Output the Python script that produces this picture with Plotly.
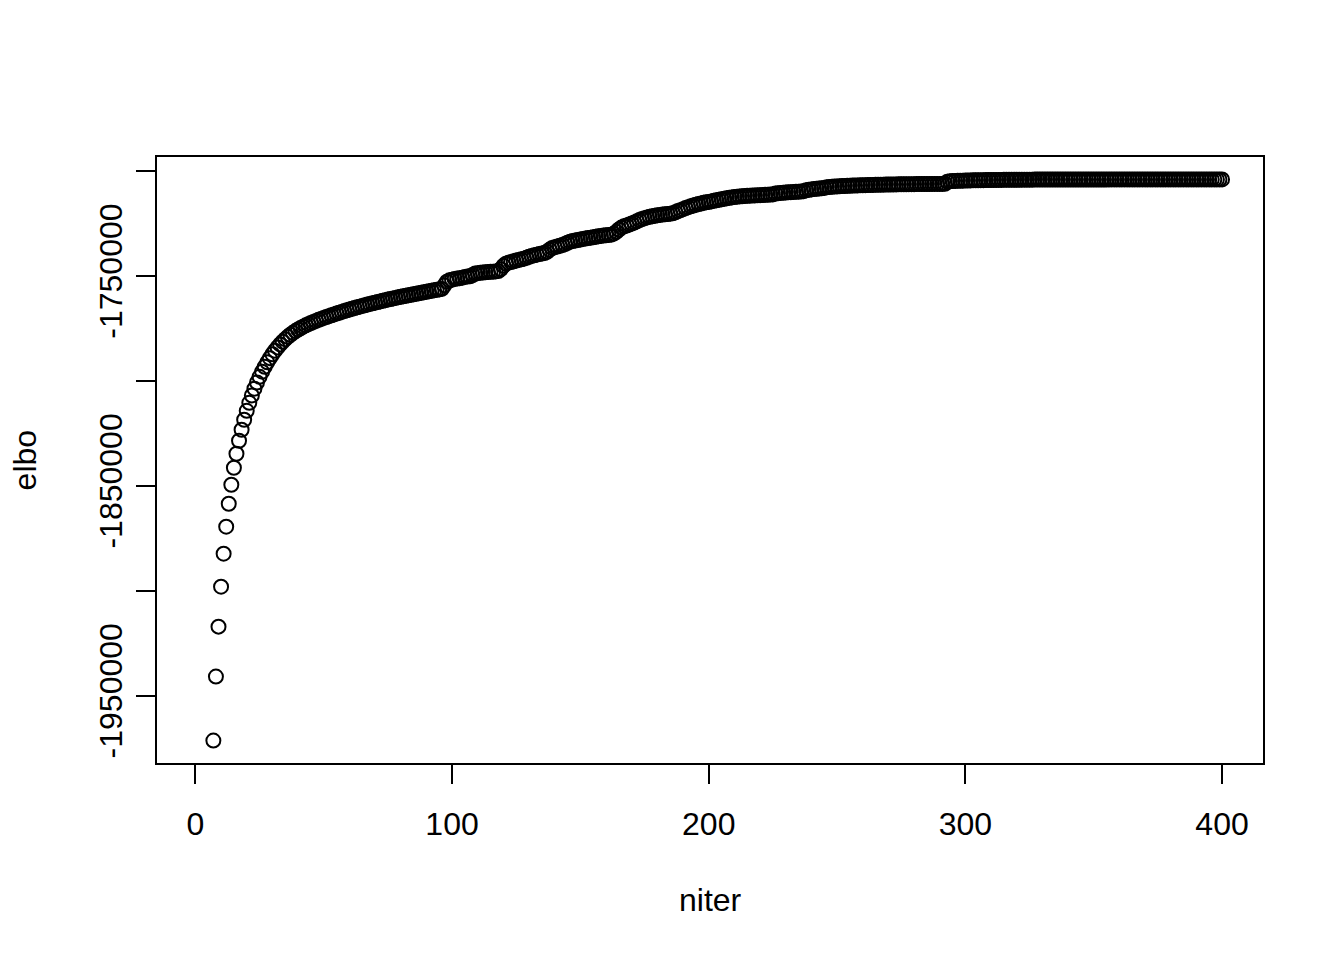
import plotly.graph_objects as go

niter = list(range(7, 401))

elbo = [
    -1971429, -1940952, -1917143, -1898095, -1882381, -1869524, -1858571, -1849524, -1841429, -1834762,
    -1828571, -1823333, -1818571, -1814286, -1810476, -1807000, -1803750, -1800800, -1798095, -1795645,
    -1793345, -1791195, -1789195, -1787345, -1785645, -1784085, -1782655, -1781345, -1780145, -1779045,
    -1778045, -1777135, -1776305, -1775545,
    -1774845, -1774195, -1773585, -1773010, -1772465, -1771945, -1771445, -1770965, -1770500, -1770050,
    -1769610, -1769180, -1768760, -1768350, -1767950, -1767558, -1767173, -1766795, -1766424, -1766060,
    -1765702, -1765350, -1765004, -1764664, -1764330, -1764002, -1763680, -1763364, -1763054, -1762749,
    -1762449, -1762154, -1761864, -1761579, -1761299, -1761024, -1760754, -1760489, -1760229, -1759974,
    -1759724, -1759476, -1759230, -1758986, -1758744, -1758504, -1758266, -1758030, -1757796, -1757564,
    -1757334, -1757106, -1756880, -1756656, -1756434, -1756214, -1754500, -1752800, -1752100, -1751800,
    -1751450, -1751280, -1751100, -1750850, -1750500, -1750350, -1750220, -1749600, -1748900, -1748700,
    -1748550, -1748420, -1748300, -1748190, -1748080, -1747980, -1747880, -1747700, -1746800, -1745200,
    -1744200, -1743700, -1743400, -1743050, -1742700, -1742400, -1742100, -1741800, -1741400, -1740900,
    -1740500, -1740200, -1739900, -1739600, -1739350, -1739100, -1738500, -1737500, -1736700, -1736300,
    -1736000, -1735700, -1735300, -1734800, -1734200, -1733700, -1733400, -1733150, -1732900, -1732650,
    -1732400, -1732200, -1732000, -1731800, -1731600, -1731400, -1731150, -1730950, -1730800, -1730650,
    -1730500, -1730350, -1729900, -1729000, -1727900, -1727000, -1726400, -1726000, -1725550, -1725100,
    -1724600, -1724000, -1723400, -1722900, -1722500, -1722150, -1721850, -1721600, -1721350, -1721150,
    -1720950, -1720800, -1720650, -1720500, -1720350, -1720150, -1719700, -1719100, -1718700, -1718200,
    -1717700, -1717250, -1716850, -1716450, -1716100, -1715800, -1715500, -1715200, -1714950, -1714750,
    -1714500, -1714250, -1714000, -1713750, -1713500, -1713250, -1713000, -1712800, -1712600, -1712400,
    -1712250, -1712150, -1712050, -1711950, -1711870, -1711800, -1711730, -1711660, -1711590, -1711520,
    -1711450, -1711390, -1711330, -1711270, -1711200, -1710800, -1710600, -1710480, -1710380, -1710290,
    -1710200, -1710120, -1710040, -1709960, -1709880, -1709800, -1709650, -1709200, -1708950, -1708800,
    -1708650, -1708520, -1708400, -1708280, -1708100, -1707800, -1707650, -1707550, -1707460, -1707380,
    -1707300, -1707230, -1707160, -1707100, -1707040, -1706990, -1706940, -1706890, -1706845, -1706800,
    -1706760, -1706720, -1706685, -1706650, -1706615, -1706585, -1706555, -1706525, -1706500, -1706475,
    -1706450, -1706430, -1706410, -1706390, -1706370, -1706350, -1706335, -1706320, -1706305, -1706290,
    -1706275, -1706260, -1706248, -1706236, -1706224, -1706212, -1706200, -1706190, -1706180, -1706170,
    -1706160, -1706120, -1705100, -1704900, -1704820, -1704760, -1704705, -1704655, -1704610, -1704570,
    -1704540, -1704510, -1704482, -1704455, -1704430, -1704406, -1704384, -1704363, -1704343, -1704324,
    -1704306, -1704289, -1704273, -1704258, -1704244, -1704231, -1704219, -1704207, -1704196, -1704186,
    -1704177, -1704168, -1704160, -1704152, -1704145, -1704138, -1704132, -1704126, -1704120, -1704115,
    -1704110, -1704105, -1704101, -1704097, -1704093, -1704089, -1704086, -1704083, -1704080, -1704077,
    -1704074, -1704072, -1704070, -1704068, -1704066, -1704065, -1704064, -1704063, -1704062, -1704061,
    -1704060, -1704059, -1704058, -1704058, -1704057, -1704056, -1704056, -1704055, -1704055, -1704054,
    -1704054, -1704053, -1704053, -1704053, -1704052, -1704052, -1704052, -1704051, -1704051, -1704051,
    -1704051, -1704050, -1704050, -1704050, -1704050, -1704050, -1704049, -1704049, -1704049, -1704049,
    -1704049, -1704049, -1704048, -1704048, -1704048, -1704048, -1704048, -1704048, -1704048, -1704048,
    -1704048, -1704047, -1704047, -1704047, -1704047, -1704047, -1704047, -1704047, -1704047, -1704047,
]

x_ticks = [0, 100, 200, 300, 400]
y_ticks = [-1950000, -1900000, -1850000, -1800000, -1750000, -1700000]
y_ticktext = ["-1950000", "", "-1850000", "", "-1750000", ""]

FONT = "Liberation Sans, Arial, Helvetica, sans-serif"
FS = 32

fig = go.Figure()
fig.add_trace(go.Scatter(
    x=niter, y=elbo, mode="markers",
    marker=dict(symbol="circle-open", size=14, color="black", line=dict(width=2, color="black")),
    showlegend=False, hoverinfo="x+y",
))

# R-style 4% range extension
xmin, xmax = 1, 400
xpad = 0.04 * (xmax - xmin)
ymin, ymax = min(elbo), max(elbo)
ypad = 0.04 * (ymax - ymin)

axis_common = dict(
    showgrid=False, zeroline=False, showline=True, mirror=True,
    linecolor="black", linewidth=2, ticks="outside", ticklen=19, tickwidth=2,
    tickcolor="black", tickfont=dict(family=FONT, size=FS, color="black"),
)

# page body has an 8px default margin; size the figure so it fits the window
fig.update_layout(
    width=1336, height=952,
    margin=dict(l=149, r=81, t=149, b=197),
    paper_bgcolor="white", plot_bgcolor="white",
    font=dict(family=FONT, size=FS, color="black"),
    xaxis=dict(range=[xmin - xpad, xmax + xpad], tickvals=x_ticks,
               ticktext=[str(v) for v in x_ticks], ticklabelstandoff=13, **axis_common),
    yaxis=dict(range=[ymin - ypad, ymax + ypad], tickvals=y_ticks, ticktext=y_ticktext,
               tickangle=-90, ticklabelstandoff=1, **axis_common),
    annotations=[
        dict(text="niter", xref="paper", yref="paper", x=0.5, y=-0.226,
             xanchor="center", yanchor="middle", showarrow=False,
             font=dict(family=FONT, size=FS, color="black")),
        dict(text="elbo", xref="paper", yref="paper", x=-0.119, y=0.5,
             xanchor="center", yanchor="middle", textangle=-90, showarrow=False,
             font=dict(family=FONT, size=FS, color="black")),
    ],
)

fig.write_html("out.html")
